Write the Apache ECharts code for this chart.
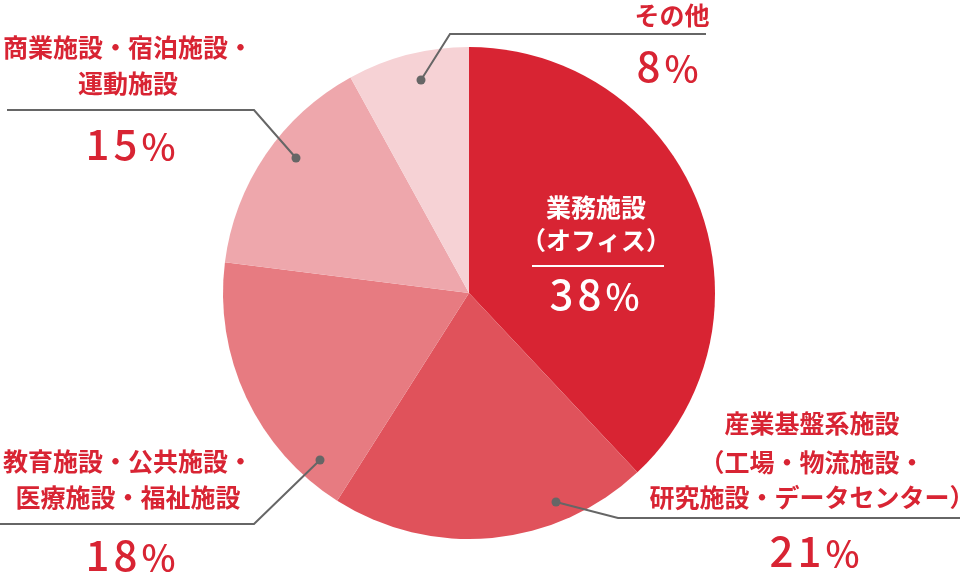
<!DOCTYPE html>
<html>
<head>
<meta charset="utf-8">
<script src="https://cdn.jsdelivr.net/npm/echarts@6/dist/echarts.min.js"></script>
<style>
html,body{margin:0;padding:0;background:#fff;}
#c{width:960px;height:572px;}
</style>
</head>
<body>
<div id="c"></div>
<script>
// ---- data ----
const categories = [
  '業務施設（オフィス）',
  '産業基盤系施設（工場・物流施設・研究施設・データセンター）',
  '教育施設・公共施設・医療施設・福祉施設',
  '商業施設・宿泊施設・運動施設',
  'その他'
];
const values = [38, 21, 18, 15, 8];
const nameLines = [
  ['業務施設', '（オフィス）'],
  ['産業基盤系施設', '（工場・物流施設・', '研究施設・データセンター）'],
  ['教育施設・公共施設・', '医療施設・福祉施設'],
  ['商業施設・宿泊施設・', '運動施設'],
  ['その他']
];
const sliceColors = ['#d82433', '#e0525b', '#e77b81', '#eea7ac', '#f6d2d5'];

// ---- layout (annotation positions only) ----
const layout = [
  { cx: 596, ys: [207, 240], rule: [[532, 266], [664, 266]], dot: null, pct: [594, 294], inner: true },
  { cx: 812, ys: [423, 462, 497], rule: [[960, 518], [618, 518], [556, 502]], dot: [556, 502], pct: [814, 551] },
  { cx: 128, ys: [461, 497], rule: [[0, 524], [254, 524], [320, 460]], dot: [320, 460], pct: [130, 555] },
  { cx: 128, ys: [47, 83], rule: [[7, 110], [254, 110], [296, 158]], dot: [296, 158], pct: [130, 144] },
  { cx: 672, ys: [15], rule: [[706, 34], [450, 34], [421, 80]], dot: [421, 80], pct: [667, 66] }
];

const RED = '#d82433';
const FONT = "'Noto Sans CJK JP', 'Noto Sans', sans-serif";

const chart = echarts.init(document.getElementById('c'));

const graphics = [];
layout.forEach((L, i) => {
  const col = L.inner ? '#ffffff' : RED;
  const lineCol = L.inner ? '#ffffff' : '#666666';
  graphics.push({
    type: 'polyline', z: 10, silent: true,
    shape: { points: L.rule },
    style: { stroke: lineCol, lineWidth: 2, fill: null }
  });
  if (L.dot) {
    graphics.push({
      type: 'circle', z: 11, silent: true,
      shape: { cx: L.dot[0], cy: L.dot[1], r: 4.5 },
      style: { fill: '#666666' }
    });
  }
  nameLines[i].forEach((t, k) => {
    graphics.push({
      type: 'text', z: 12, silent: true,
      style: {
        text: t, x: L.cx, y: L.ys[k], align: 'center', verticalAlign: 'middle',
        fill: col, fontSize: 25, fontWeight: 'bold', fontFamily: FONT
      }
    });
  });
  const digits = String(values[i]).split('').map(d => '{d|' + d + '}').join('');
  graphics.push({
    type: 'text', z: 12, silent: true,
    style: {
      text: digits + '{s|％}',
      x: L.pct[0], y: L.pct[1], align: 'center', verticalAlign: 'middle',
      rich: {
        d: { fontSize: 42, fontFamily: FONT, fill: col, fontWeight: 500, verticalAlign: 'bottom', lineHeight: 42, padding: [0, 2, 0, 2] },
        s: { fontSize: 36, fontFamily: FONT, fill: col, fontWeight: 500, verticalAlign: 'bottom', lineHeight: 40, padding: [0, 0, 0, 1] }
      }
    }
  });
});

chart.setOption({
  animation: false,
  backgroundColor: '#ffffff',
  series: [{
    type: 'pie',
    center: [469, 293],
    radius: [0, 246],
    startAngle: 90,
    clockwise: true,
    silent: true,
    label: { show: false },
    labelLine: { show: false },
    itemStyle: { borderWidth: 0 },
    data: categories.map((c, i) => ({ name: c, value: values[i], itemStyle: { color: sliceColors[i] } }))
  }],
  graphic: graphics
});
</script>
</body>
</html>
